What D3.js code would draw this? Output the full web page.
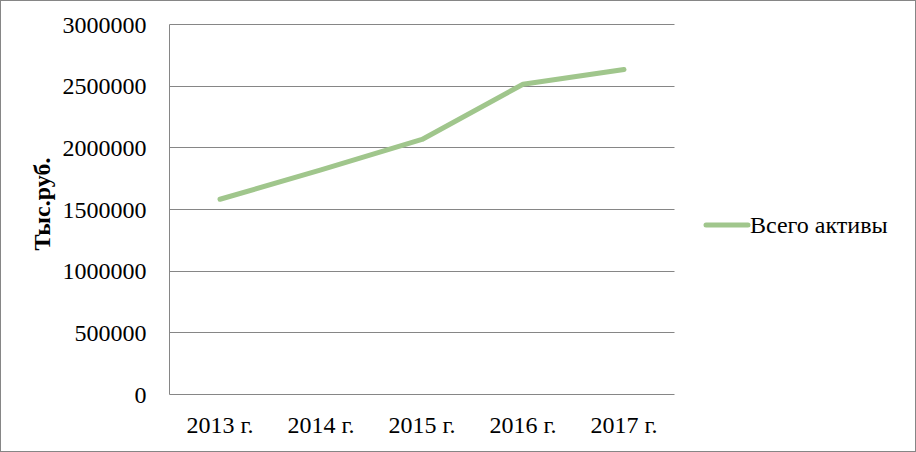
<!DOCTYPE html>
<html>
<head>
<meta charset="utf-8">
<script src="https://cdn.jsdelivr.net/npm/d3@7"></script>
<style>
  body { margin: 0; background: #fff; }
</style>
</head>
<body>
<div id="chart"></div>
<script>
const years = ["2013 г.", "2014 г.", "2015 г.", "2016 г.", "2017 г."];
const assets = [1583000, 1821000, 2068000, 2516000, 2635000];
const yTicks = [0, 500000, 1000000, 1500000, 2000000, 2500000, 3000000];
const seriesName = "Всего активы";
const yTitle = "Тыс.руб.";

const FONT = "'Liberation Serif', 'Times New Roman', serif";
const W = 916, H = 452;
const margin = { top: 24.5, right: 241.5, bottom: 57.5, left: 169.5 };
const width = W - margin.left - margin.right;
const height = H - margin.top - margin.bottom;

const svg = d3.select("#chart").append("svg")
  .attr("width", W).attr("height", H);

svg.append("rect")
  .attr("x", 0.5).attr("y", 0.5)
  .attr("width", W - 1).attr("height", H - 1)
  .attr("fill", "#fff").attr("stroke", "#868686");

const g = svg.append("g").attr("transform", `translate(${margin.left},${margin.top})`);

const x = d3.scaleBand().domain(years).range([0, width]);
const y = d3.scaleLinear().domain([0, 3000000]).range([height, 0]);

// gridlines
g.selectAll(".grid").data(yTicks).join("line")
  .attr("x1", 0).attr("x2", width)
  .attr("y1", d => Math.round(y(d))).attr("y2", d => Math.round(y(d)))
  .attr("stroke", "#868686").attr("stroke-width", 1);

g.append("line")
  .attr("x1", 0).attr("x2", 0).attr("y1", 0).attr("y2", height)
  .attr("stroke", "#868686");

const yAxis = g.append("g").call(d3.axisLeft(y).tickValues(yTicks).tickSize(0).tickPadding(23).tickFormat(d3.format("d")));
yAxis.select(".domain").remove();
yAxis.attr("font-family", FONT).attr("font-size", 24);
yAxis.selectAll("text").attr("fill", "#000").attr("dy", "0.32em");

const xAxis = g.append("g").attr("transform", `translate(0,${height})`)
  .call(d3.axisBottom(x).tickSize(0).tickPadding(21));
xAxis.select(".domain").remove();
xAxis.attr("font-family", FONT).attr("font-size", 24);
xAxis.selectAll("text").attr("fill", "#000");

svg.append("text")
  .attr("transform", `translate(50,204) rotate(-90)`)
  .attr("text-anchor", "middle")
  .attr("font-family", FONT)
  .attr("font-size", 24).attr("font-weight", "bold")
  .text(yTitle);

const line = d3.line()
  .x((d, i) => x(years[i]) + x.bandwidth() / 2)
  .y(d => y(d));

g.append("path").datum(assets)
  .attr("d", line)
  .attr("fill", "none")
  .attr("stroke", "#a0c68c")
  .attr("stroke-width", 5)
  .attr("stroke-linecap", "round")
  .attr("stroke-linejoin", "round");

const lg = svg.append("g").attr("transform", "translate(706,225)");
lg.append("line").attr("x1", 0).attr("x2", 42).attr("y1", 0).attr("y2", 0)
  .attr("stroke", "#a0c68c").attr("stroke-width", 5).attr("stroke-linecap", "round");
lg.append("text").attr("x", 44).attr("y", 0).attr("dy", "0.32em")
  .attr("font-family", FONT).attr("font-size", 24).text(seriesName);
</script>
</body>
</html>
